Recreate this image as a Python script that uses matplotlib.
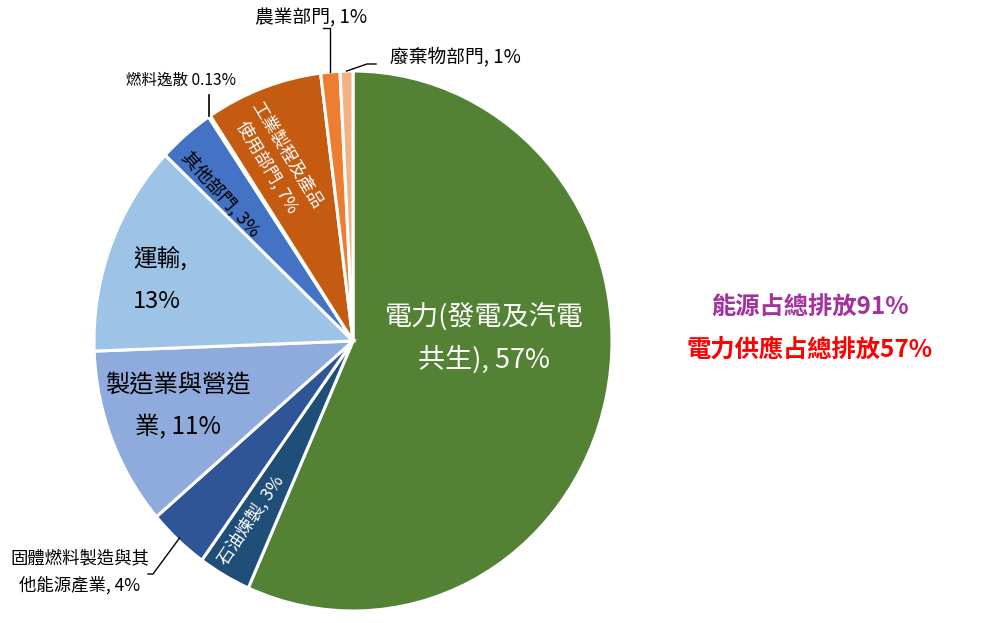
import numpy as np
import matplotlib
matplotlib.use("Agg")
import matplotlib.pyplot as plt

plt.rcParams['font.family'] = ['Noto Sans CJK TC', 'DejaVu Sans']

# ----------- Data (clockwise from top) -----------
sectors = ["電力(發電及汽電共生)", "石油煉製", "固體燃料製造與其他能源產業", "製造業與營造業",
           "運輸", "其他部門", "燃料逸散", "工業製程及產品使用部門", "農業部門", "廢棄物部門"]
shares = [56.7, 3.3, 3.8, 10.7, 12.7, 3.5, 0.13, 7.3, 1.2, 0.8]
colors = ["#548235", "#1F4E79", "#2F5597", "#8FAADC", "#9DC3E6",
          "#4472C4", "#A5A5A5", "#C55A11", "#ED7D31", "#F4B183"]
notes = ["能源占總排放91%", "電力供應占總排放57%"]
note_colors = ["#A3329E", "#FF0000"]

# pie geometry in pixels (reference is slightly taller than wide)
W, H = 1000, 623
CX, CY, RX, RY = 353, 341, 259, 270


def px(x, y):
    # pixel (top-left origin) -> data coords of the stretched pie
    return (x - CX) / RX, (CY - y) / RY


fig = plt.figure(figsize=(10, 6.23), dpi=100)
ax = fig.add_axes([0, 0, 1, 1])
wedges, _ = ax.pie(shares, colors=colors, startangle=90, counterclock=False,
                   wedgeprops=dict(edgecolor="white", linewidth=2.2))
ax.set_aspect("auto")
ax.set_xlim(px(0, 0)[0], px(W, 0)[0])
ax.set_ylim(px(0, H)[1], px(0, 0)[1])
ax.axis("off")

total = sum(shares)
cum = np.cumsum([0] + shares)
mid = [np.deg2rad(90 - 360 * (cum[i] + shares[i] / 2) / total) for i in range(len(shares))]


def edge(i):
    return np.cos(mid[i]), np.sin(mid[i])


def label(x, y, s, size, color="black", rot=0, ls=1.2, ha="center"):
    ax.text(*px(x, y), s, fontsize=size, color=color, rotation=rot, ha=ha, va="center",
            linespacing=ls, rotation_mode="anchor")


# ----------- Labels inside -----------
label(484, 338, "電力(發電及汽電\n共生), 57%", 19.5, "white", ls=1.68)
label(251, 520, "石油煉製, 3%", 12.5, "white", rot=56)
label(178, 406, "製造業與營造\n業, 11%", 17.5, ls=1.8)
label(133, 280, "運輸,\n\n13%", 17, ls=0.9, ha="left")
label(221, 194, "其他部門, 3%", 13, rot=-48)
label(277, 161, "工業製程及產品\n使用部門, 7%", 12.5, "white", rot=-59, ls=1.4)

# ----------- Labels outside with leader lines -----------
label(80, 572, "固體燃料製造與其\n他能源產業, 4%", 12.5, ls=1.6)
ex, ey = edge(2)
ax.plot([ex * 0.99, px(153, 574)[0], px(148, 574)[0]],
        [ey * 0.99, px(153, 574)[1], px(148, 574)[1]], color="black", lw=1)

label(181, 80, "燃料逸散 0.13%", 11.2)
ex, ey = edge(6)
ax.plot([ex, ex], [ey, px(0, 95)[1]], color="black", lw=1.2)

label(311, 18, "農業部門, 1%", 13.5)
ex, ey = edge(8)
ax.plot([ex, ex, px(323, 0)[0]], [ey, px(0, 28)[1], px(0, 28)[1]], color="black", lw=1)

label(455, 57, "廢棄物部門, 1%", 13.5)
ex, ey = edge(9)
ax.plot([ex, px(367, 64)[0], px(376, 64)[0]], [ey, px(367, 64)[1], px(376, 64)[1]],
        color="black", lw=1)

# ----------- Notes -----------
for k, (s, c) in enumerate(zip(notes, note_colors)):
    ax.text(*px(810, 308 + 42 * k), s, fontsize=17.5, color=c, fontweight="bold",
            ha="center", va="center")

fig.savefig("out.png", dpi=100)
